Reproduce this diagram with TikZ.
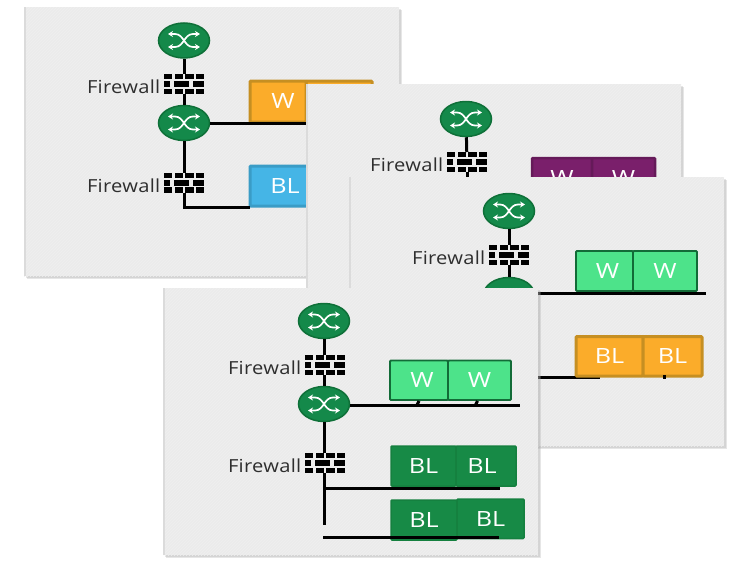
\documentclass[tikz,border=0pt]{standalone}
\usepackage{fontspec}
\setmainfont{Open Sans}
\newfontfamily\lblfont[FakeStretch=1.12,LetterSpace=1.5]{Open Sans}
\newfontfamily\boxfont[FakeStretch=1.2]{Open Sans}
\usetikzlibrary{shapes.geometric,arrows.meta,patterns}
\definecolor{panelfill}{HTML}{EBEBEB}
\definecolor{panelhatch}{HTML}{EFEFEF}
\definecolor{rtfill}{HTML}{14894A}
\definecolor{rtline}{HTML}{0E7038}
\definecolor{orfill}{HTML}{FBAC2A}
\definecolor{orline}{HTML}{C68F22}
\definecolor{blfill}{HTML}{45B5E6}
\definecolor{blline}{HTML}{3A9CC6}
\definecolor{ltfill}{HTML}{4DE38A}
\definecolor{ltline}{HTML}{126B37}
\definecolor{dkfill}{HTML}{178A46}
\definecolor{dkline}{HTML}{15803F}
\definecolor{pufill}{HTML}{7A1F6B}
\definecolor{puline}{HTML}{651A59}
\tikzset{
  x=1pt,y=-1pt,
  router/.style={ellipse,draw=rtline,line width=1.5pt,fill=rtfill,minimum width=51pt,minimum height=35pt,inner sep=0pt},
  fwall/.style={rectangle,minimum width=40pt,minimum height=20pt,inner sep=0pt,outer sep=0pt},
  fwlabel/.style={anchor=east,inner sep=0pt,text=black!82,font=\lblfont\fontsize{18}{20}\selectfont},
  link/.style={line width=3pt,black},
  stub/.style={line width=3pt,black},
  leaf/.style={rectangle,rounded corners=1pt,text=white,inner sep=0pt,font=\boxfont\fontsize{21}{24}\selectfont},
  orbox/.style={leaf,fill=orfill,draw=orline,line width=3pt},
  blbox/.style={leaf,fill=blfill,draw=blline,line width=3pt},
  ltbox/.style={leaf,fill=ltfill,draw=ltline,line width=1.8pt},
  dkbox/.style={leaf,fill=dkfill,draw=dkline,line width=1.5pt},
  pubox/.style={leaf,fill=pufill,draw=puline,line width=2.5pt},
  panel/.style={fill=panelfill,draw=none},
  panelshadow/.style={fill=black!35,draw=none,opacity=.28}
}
% panel
\newcommand{\mypanel}[4]{%
  \fill[panelshadow] (#1+3,#2+3) rectangle (#3+3,#4+3);
  \fill[panelshadow] (#1+1.5,#2+1.5) rectangle (#3+1.5,#4+1.5);
  \fill[panel] (#1,#2) rectangle (#3,#4);
  \fill[pattern=north east lines,pattern color=panelhatch] (#1,#2) rectangle (#3,#4);
  \fill[black!14] (#1,#2) rectangle (#1+1.5,#4);
}
% router with icon
\newcommand{\myrouter}[3]{%
  \node[router] (#1) at (#2,#3) {};
  \begin{scope}[shift={(#2,#3)},white,line width=1.7pt,>={Stealth[length=5pt,width=6pt]}]
    \draw[<->] (-16,-6.5) -- (-9,-6.5) .. controls (0,-6.5) and (0,6.5) .. (9,6.5) -- (16,6.5);
    \draw[<->] (-16,6.5) -- (-9,6.5) .. controls (0,6.5) and (0,-6.5) .. (9,-6.5) -- (16,-6.5);
  \end{scope}
}
% firewall with bricks and its label
\newcommand{\myfirewall}[3]{%
  \node[fwall] (#1) at (#2,#3) {};
  \node[fwlabel] (#1label) at ([xshift=-3.5pt,yshift=-3pt]#1.west) {Firewall};
  \begin{scope}[shift={(#2,#3)}]
    \foreach \xa/\xb in {-20/-12,-9.5/-1,1/10,12/20}{
      \fill[black] (\xa,-10) rectangle (\xb,-4.8);
      \fill[black] (\xa,4.8) rectangle (\xb,10);
    }
    \foreach \xa/\xb in {-20/-14,-10/5,9/20}{
      \fill[black] (\xa,-3) rectangle (\xb,3);
    }
  \end{scope}
}
% box given by its corners
\newcommand{\mybox}[7]{%
  \pgfmathsetmacro{\bcx}{(#3+#5)/2}
  \pgfmathsetmacro{\bcy}{(#4+#6)/2}
  \pgfmathsetmacro{\bw}{#5-#3}
  \pgfmathsetmacro{\bh}{#6-#4}
  \node[#2,minimum width=\bw pt,minimum height=\bh pt] (#1) at (\bcx,\bcy) {#7};
}
\begin{document}
\begin{tikzpicture}
\useasboundingbox (0,0) rectangle (731,565);
\fill[white] (0,0) rectangle (731,565);

% ---------- panel A
\mypanel{24}{7}{399}{276}
\myrouter{ar1}{184}{40.5}
\myfirewall{af1}{184}{84}
\myrouter{ar2}{184}{123}
\myfirewall{af2}{184}{182.5}
\mybox{aw2}{orbox}{306}{81}{372}{122}{}
\mybox{aw1}{orbox}{250}{81}{306}{122}{\hspace*{10pt}W}
\mybox{abl}{blbox}{250}{166}{312}{206}{\hspace*{8pt}BL}
\coordinate (abusw) at (310,123.5);
\coordinate (abusb) at (250,207.5);
\draw[link] (ar1) -- (af1);
\draw[link] (af1) -- (ar2);
\draw[link] (ar2) -- (af2);
\draw[link] (ar2) -- (ar2 -| abusw);
\draw[link] (af2) |- (abusb);

% ---------- panel B
\mypanel{306}{84}{681}{352}
\myrouter{br1}{466}{119}
\myfirewall{bf1}{467}{162}
\mybox{bw1}{pubox}{532}{158}{592}{199}{W}
\mybox{bw2}{pubox}{592}{158}{655}{199}{W}
\draw[link] (br1) -- (bf1);
\coordinate (bdown) at (467,190);
\draw[link] (bf1) -- (bdown);

% ---------- panel C
\mypanel{349}{177}{724}{446}
\myrouter{cr1}{509}{211}
\myfirewall{cf1}{509}{255}
\node[router] (cr2) at (509,295) {};
\mybox{cw1}{ltbox}{576}{251}{633}{291}{\hspace*{6pt}W}
\mybox{cw2}{ltbox}{633}{251}{697}{291}{W}
\coordinate (cbusw) at (706,293.5);
\coordinate (cbusb) at (600,377.5);
\draw[link] (cr1) -- (cf1);
\draw[link] (cf1) -- (cr2);
\draw[stub] (cw1.south) ++(-5,0) -- ++(0,3);
\draw[stub] (cw2.south) ++(-2,0) -- ++(0,3);
\draw[link] (cr2) |- (cbusb);
\draw[link] (cr2.east |- cbusw) -- (cbusw);
\mybox{co1}{orbox}{576}{336.5}{643}{376}{BL}
\mybox{co2}{orbox}{643}{336.5}{702}{376}{BL}
\draw[stub] (664,375) -- (664,378.5);

% ---------- panel D
\mypanel{163}{288}{538}{555}
\myrouter{dr1}{324}{321}
\myfirewall{df1}{325}{365}
\myrouter{dr2}{324}{404}
\myfirewall{df2}{325}{463}
\mybox{dw1}{ltbox}{390}{360.5}{448}{400}{\hspace*{6pt}W}
\mybox{dw2}{ltbox}{448}{360.5}{511}{400}{W}
\mybox{db1}{dkbox}{391}{446}{456}{486}{BL}
\mybox{db2}{dkbox}{456}{446}{516}{486}{BL\hspace*{8pt}}
\mybox{db3}{dkbox}{391}{500}{457}{540}{BL}
\mybox{db4}{dkbox}{457}{499}{524}{538.5}{BL}
\coordinate (dbusw) at (520,405);
\coordinate (dbusa) at (500,488);
\coordinate (dend) at (324,525);
\coordinate (dbusbs) at (323,537);
\coordinate (dbusbe) at (499,537);
\draw[link] (dr1) -- (dr1 |- df1.north);
\draw[link] (dr1 |- df1.south) -- (dr2);
\draw[link] (dr2) -- (dr2 |- df2.north);
\draw[link] (dr2.east |- dbusw) -- (dbusw);
\draw[stub] (dw1.south) -- ++(-2,4);
\draw[stub] (dw2.south) ++(-2,0) -- ++(-2,4);
\draw[link] (dend |- df2.south) -- (dend);
\draw[link] (dend |- dbusa) -- (dbusa);
\draw[link] (dbusbs) -- (dbusbe);
\end{tikzpicture}
\end{document}
